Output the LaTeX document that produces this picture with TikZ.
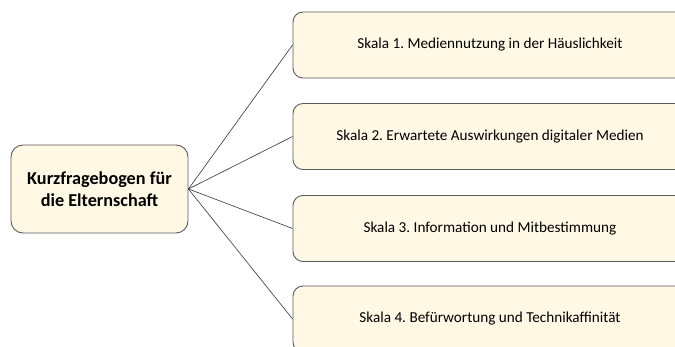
\documentclass[tikz,border=0pt]{standalone}
\usepackage{fontspec}
\setmainfont{Carlito}
\definecolor{boxfill}{RGB}{255,248,229}
\definecolor{boxline}{RGB}{90,90,90}
\begin{document}
\frenchspacing
\begin{tikzpicture}[x=1pt,y=-1pt,
  mainbox/.style={draw=boxline,line width=0.9pt,fill=boxfill,rounded corners=12pt,
    minimum width=177pt,minimum height=88pt,align=center,inner sep=0pt,
    font=\fontsize{18.2}{22.5}\selectfont\bfseries},
  scalebox/.style={draw=boxline,line width=0.9pt,fill=boxfill,rounded corners=10pt,
    minimum width=394pt,minimum height=66pt,inner sep=0pt,
    font=\fontsize{15.2}{18}\selectfont},
  link/.style={draw=black!80,line width=0.6pt}]
\useasboundingbox (0,0) rectangle (675,347);
\clip (0,0) rectangle (675,347);
\node[mainbox] (root) at (99.5,189) {Kurzfragebogen für\\die Elternschaft};
\node[scalebox] (s1) at (490,45) {Skala 1. Mediennutzung in der Häuslichkeit};
\node[scalebox] (s2) at (490,136.5) {Skala 2. Erwartete Auswirkungen digitaler Medien};
\node[scalebox] (s3) at (490,228.5) {Skala 3. Information und Mitbestimmung};
\node[scalebox] (s4) at (490,319) {Skala 4. Befürwortung und Technikaffinität};
\foreach \s in {s1,s2,s3,s4}
  \draw[link] (root.east) -- (\s.west);
\end{tikzpicture}
\end{document}
